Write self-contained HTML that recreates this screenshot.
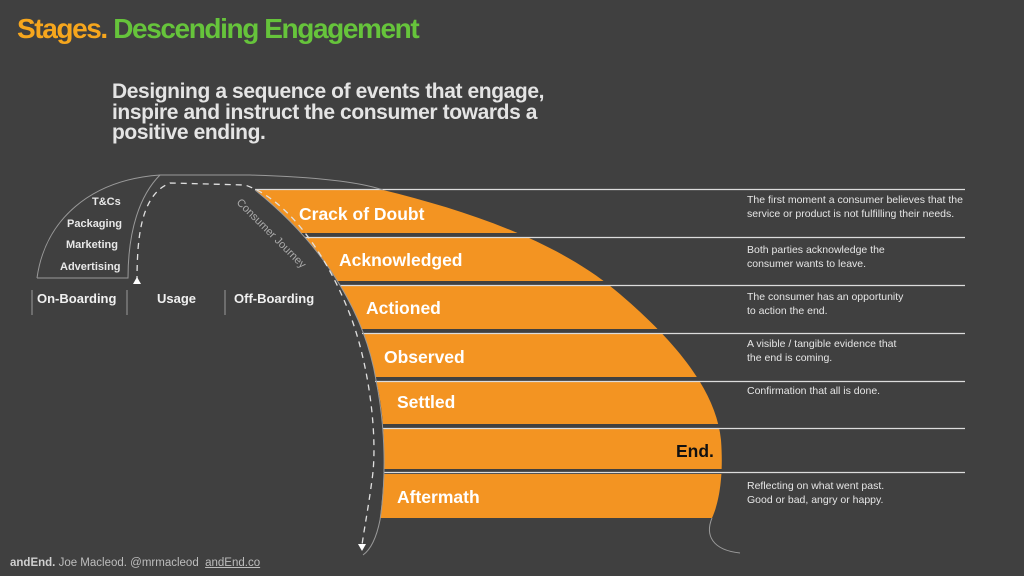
<!DOCTYPE html>
<html><head><meta charset="utf-8"><style>
body{margin:0;width:1024px;height:576px;background:#404040;overflow:hidden;font-family:"Liberation Sans",sans-serif;position:relative}
.t{position:absolute;white-space:nowrap}
.desc{position:absolute;left:747px;font-size:10.5px;line-height:14px;color:#e6e6e6}
</style></head><body>
<div class="t" style="left:17px;top:13px;font-size:28px;font-weight:bold;letter-spacing:-1.4px"><span style="color:#f6a61d">Stages.</span> <span style="color:#66c43b">Descending Engagement</span></div>
<div class="t" style="left:112px;top:82px;font-size:21px;line-height:20.5px;font-weight:bold;color:#e4e4e4;letter-spacing:-0.4px">Designing a sequence of events that engage,<br>inspire and instruct the consumer towards a<br>positive ending.</div>
<svg width="1024" height="576" style="position:absolute;left:0;top:0">
<defs><clipPath id="c"><path d="M255,190 L383,190 C465,210 555,240 615,290 C675,340 716,390 721,440 C724,480 718,505 712,518 L380,518 C386,470 386,420 376,380 C366,320 330,250 255,190 Z"/></clipPath></defs>
<g clip-path="url(#c)" fill="#f39422">
<rect x="200" y="190" width="600" height="43"/>
<rect x="200" y="238" width="600" height="43"/>
<rect x="200" y="286" width="600" height="43"/>
<rect x="200" y="334" width="600" height="43"/>
<rect x="200" y="382" width="600" height="42"/>
<rect x="200" y="429" width="600" height="40"/>
<rect x="200" y="474" width="600" height="44"/>
</g>
<g stroke="#dcdcdc" stroke-width="1.2">
<line x1="255" y1="189.5" x2="965" y2="189.5"/><line x1="305" y1="237.5" x2="965" y2="237.5"/>
<line x1="340" y1="285.5" x2="965" y2="285.5"/><line x1="362" y1="333.5" x2="965" y2="333.5"/>
<line x1="375" y1="381.5" x2="965" y2="381.5"/><line x1="383" y1="428.5" x2="965" y2="428.5"/>
<line x1="384" y1="472.5" x2="965" y2="472.5"/>
</g>
<g fill="none" stroke="#9a9a9a" stroke-width="1">
<path d="M37,278 C45,220 90,180 160,175 L250,175 C320,177 360,182 383,190"/>
<path d="M37,278 L128,278 C128,230 140,195 160,175"/>
<path d="M255,190 C330,250 366,320 376,380 C386,430 386,480 380,520 C376,540 370,550 363,555"/>
<path d="M712,518 C705,535 712,550 740,553"/>
<line x1="32" y1="290" x2="32" y2="315"/><line x1="127" y1="290" x2="127" y2="315"/><line x1="225" y1="290" x2="225" y2="315"/>
</g>
<path d="M137,282 C137,240 140,195 170,183 L245,185 C290,200 330,260 352,320 C370,370 378,440 372,480 C368,510 364,530 362,545" fill="none" stroke="#e0e0e0" stroke-width="1.3" stroke-dasharray="6,5"/>
<path d="M133,284 L137,277 L141,284 Z" fill="#fff"/><path d="M358,544 L366,544 L362,551 Z" fill="#fff"/>
<text x="236" y="203" fill="#aaa" font-size="11" transform="rotate(45 236 203)">Consumer Journey</text>
</svg>
<div class="t" style="left:92px;top:196px;font-size:11px;font-weight:bold;color:#e8e8e8">T&amp;Cs</div>
<div class="t" style="left:67px;top:218px;font-size:11px;font-weight:bold;color:#e8e8e8">Packaging</div>
<div class="t" style="left:66px;top:239px;font-size:11px;font-weight:bold;color:#e8e8e8">Marketing</div>
<div class="t" style="left:60px;top:261px;font-size:11px;font-weight:bold;color:#e8e8e8">Advertising</div>
<div class="t" style="left:37px;top:291px;font-size:13px;font-weight:bold;color:#f0f0f0">On-Boarding</div>
<div class="t" style="left:157px;top:291px;font-size:13px;font-weight:bold;color:#f0f0f0">Usage</div>
<div class="t" style="left:234px;top:291px;font-size:13px;font-weight:bold;color:#f0f0f0">Off-Boarding</div>
<div class="t" style="left:299px;top:204px;font-size:17.5px;font-weight:bold;color:#fff">Crack of Doubt</div>
<div class="t" style="left:339px;top:250px;font-size:17.5px;font-weight:bold;color:#fff">Acknowledged</div>
<div class="t" style="left:366px;top:298px;font-size:17.5px;font-weight:bold;color:#fff">Actioned</div>
<div class="t" style="left:384px;top:347px;font-size:17.5px;font-weight:bold;color:#fff">Observed</div>
<div class="t" style="left:397px;top:392px;font-size:17.5px;font-weight:bold;color:#fff">Settled</div>
<div class="t" style="left:676px;top:441px;font-size:17.5px;font-weight:bold;color:#111">End.</div>
<div class="t" style="left:397px;top:487px;font-size:17.5px;font-weight:bold;color:#fff">Aftermath</div>
<div class="desc" style="top:193px">The first moment a consumer believes that the<br>service or product is not fulfilling their needs.</div>
<div class="desc" style="top:243px">Both parties acknowledge the<br>consumer wants to leave.</div>
<div class="desc" style="top:290px">The consumer has an opportunity<br>to action the end.</div>
<div class="desc" style="top:337px">A visible / tangible evidence that<br>the end is coming.</div>
<div class="desc" style="top:384px">Confirmation that all is done.</div>
<div class="desc" style="top:479px">Reflecting on what went past.<br>Good or bad, angry or happy.</div>
<div class="t" style="left:10px;top:557px;font-size:11.5px;color:#bdbdbd"><b style="color:#cfcfcf">andEnd.</b> Joe Macleod. @mrmacleod &nbsp;<span style="text-decoration:underline">andEnd.co</span></div>
</body></html>
